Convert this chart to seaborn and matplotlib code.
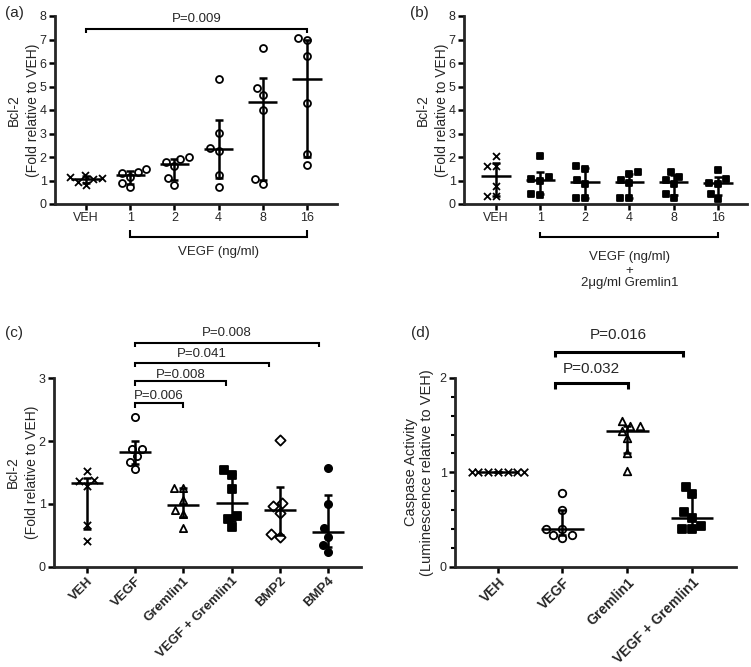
import warnings
warnings.filterwarnings("ignore")
import numpy as np
import pandas as pd
import matplotlib
matplotlib.use("Agg")
import matplotlib.pyplot as plt
import seaborn as sns
from matplotlib.ticker import MultipleLocator

sns.set_style("ticks")
plt.rcParams["font.family"] = ["Liberation Sans", "DejaVu Sans"]

# ---------------- data ----------------
a_groups = ["VEH", "1", "2", "4", "8", "16"]
a_veh = [1.25, 1.15, 1.10, 1.05, 0.95, 0.80]
a_1 = [1.37, 1.16, 1.30, 1.49, 0.72, 0.89]
a_2 = [2.01, 1.90, 1.78, 1.62, 1.09, 0.81]
a_4 = [5.31, 3.01, 2.27, 2.40, 1.23, 0.74]
a_8 = [6.65, 4.92, 4.64, 4.00, 1.06, 0.84]
a_16 = [7.05, 6.98, 6.30, 4.31, 2.11, 1.66]

b_groups = ["VEH", "1", "2", "4", "8", "16"]
b_veh = [2.06, 1.63, 1.63, 0.77, 0.34, 0.34]
b_1 = [2.06, 1.13, 1.06, 0.99, 0.43, 0.38]
b_2 = [1.63, 1.49, 1.02, 0.85, 0.24, 0.24]
b_4 = [1.37, 1.26, 1.02, 0.88, 0.24, 0.24]
b_8 = [1.38, 1.16, 1.02, 0.85, 0.43, 0.24]
b_16 = [1.45, 1.05, 0.91, 0.85, 0.43, 0.21]

c_groups = ["VEH", "VEGF", "Gremlin1", "VEGF + Gremlin1", "BMP2", "BMP4"]
c_veh = [1.53, 1.38, 1.37, 1.28, 0.66, 0.41]
c_vegf = [2.39, 1.88, 1.88, 1.76, 1.67, 1.55]
c_grem = [1.26, 1.26, 1.06, 0.90, 0.84, 0.62]
c_vg = [1.54, 1.46, 1.23, 0.80, 0.76, 0.63]
c_bmp2 = [2.01, 1.02, 0.96, 0.86, 0.52, 0.47]
c_bmp4 = [1.57, 1.00, 0.61, 0.48, 0.35, 0.23]

d_groups = ["VEH", "VEGF", "Gremlin1", "VEGF + Gremlin1"]
d_veh = [1.0, 1.0, 1.0, 1.0, 1.0, 1.0, 1.0]
d_vegf = [0.78, 0.60, 0.40, 0.40, 0.335, 0.335, 0.30]
d_grem = [1.545, 1.49, 1.49, 1.44, 1.36, 1.21, 1.01]
d_vg = [0.85, 0.77, 0.58, 0.52, 0.43, 0.40, 0.40]

a_p = "P=0.009"
c_p = ["P=0.006", "P=0.008", "P=0.041", "P=0.008"]
d_p = ["P=0.032", "P=0.016"]

# ---------------- helpers ----------------
def draw_panel(ax, groups, values, markers, fills, size, lw_err=1.8, halfw=0.33, cap=3):
    df = pd.DataFrame({
        "group": np.repeat(groups, [len(v) for v in values]),
        "value": np.concatenate([np.asarray(v, float) for v in values]),
    })
    for g, m, f in zip(groups, markers, fills):
        sub = df[df["group"] == g]
        if m in ("x", "+"):
            sns.swarmplot(data=sub, x="group", y="value", order=groups, marker=m,
                          color="black", size=size, linewidth=1.3, ax=ax, zorder=3)
        else:
            sns.swarmplot(data=sub, x="group", y="value", order=groups, marker=m,
                          color=f, edgecolor="black", linewidth=1.3, size=size,
                          ax=ax, zorder=3)
    for i, g in enumerate(groups):
        v = df.loc[df["group"] == g, "value"].to_numpy()
        med = np.median(v)
        q1, q3 = np.percentile(v, [25, 75], method="weibull")
        ax.errorbar(i, med, yerr=[[med - q1], [q3 - med]], fmt="none", ecolor="black",
                    elinewidth=lw_err, capsize=cap, capthick=lw_err, zorder=4)
        ax.plot([i - halfw, i + halfw], [med, med], color="black", lw=lw_err,
                zorder=4, solid_capstyle="butt")
    ax.set_xlabel("")
    sns.despine(ax=ax)
    for s in ("left", "bottom"):
        ax.spines[s].set_linewidth(2.0)
    ax.tick_params(axis="both", width=1.8, length=4, labelsize=9, pad=2, color="black")


def bracket(ax, x0, x1, y, drop, text, ty, fs, lw=1.5):
    ax.plot([x0, x0, x1, x1], [y - drop, y, y, y - drop], color="black", lw=lw,
            clip_on=False, solid_capstyle="butt", solid_joinstyle="miter")
    if text:
        ax.text((x0 + x1) / 2, ty, text, ha="center", va="center", fontsize=fs,
                clip_on=False)


W, H = 751, 667
fig = plt.figure(figsize=(W / 100, H / 100), dpi=100)

def axes_px(left, right, top, bottom):
    return fig.add_axes([left / W, 1 - bottom / H, (right - left) / W, (bottom - top) / H])

# ---------------- panel (a) ----------------
ax_a = axes_px(55, 337, 16, 204)
draw_panel(ax_a, a_groups, [a_veh, a_1, a_2, a_4, a_8, a_16],
           ["x", "o", "o", "o", "o", "o"], ["black"] + ["white"] * 5, 5.0)
ax_a.set_ylim(0, 8)
ax_a.set_xlim(-0.70, 5.68)
ax_a.set_yticks(range(0, 9))
ax_a.set_ylabel("Bcl-2\n(Fold relative to VEH)", fontsize=10, linespacing=1.4, labelpad=0)
bracket(ax_a, 0, 5, 7.45, 0.17, a_p, 7.87, 9.5)
bracket(ax_a, 1, 5, -1.40, -0.29, "", 0, 9)
ax_a.text(2.99, -2.04, "VEGF (ng/ml)", ha="center", va="center", fontsize=9.5, clip_on=False)

# ---------------- panel (b) ----------------
ax_b = axes_px(464, 747, 16, 204)
draw_panel(ax_b, b_groups, [b_veh, b_1, b_2, b_4, b_8, b_16],
           ["x", "s", "s", "s", "s", "s"], ["black"] * 6, 5.0)
ax_b.set_ylim(0, 8)
ax_b.set_xlim(-0.72, 5.65)
ax_b.set_yticks(range(0, 9))
ax_b.set_ylabel("Bcl-2\n(Fold relative to VEH)", fontsize=10, linespacing=1.4, labelpad=0)
bracket(ax_b, 1, 5, -1.40, -0.21, "", 0, 9)
ax_b.text(3.0, -2.26, "VEGF (ng/ml)", ha="center", va="center", fontsize=9.5, clip_on=False)
ax_b.text(3.0, -2.85, "+", ha="center", va="center", fontsize=9.5, clip_on=False)
ax_b.text(3.0, -3.36, "2\u03bcg/ml Gremlin1", ha="center", va="center", fontsize=9.5, clip_on=False)

# ---------------- panel (c) ----------------
ax_c = axes_px(54, 361, 378.3, 566.7)
draw_panel(ax_c, c_groups, [c_veh, c_vegf, c_grem, c_vg, c_bmp2, c_bmp4],
           ["x", "o", "^", "s", "D", "o"],
           ["black", "white", "white", "black", "white", "black"], 5.2)
ax_c.set_ylim(0, 3)
ax_c.set_xlim(-0.68, 5.68)
ax_c.set_yticks([0, 1, 2, 3])
ax_c.set_ylabel("Bcl-2\n(Fold relative to VEH)", fontsize=10, linespacing=1.45, labelpad=0)
plt.setp(ax_c.get_xticklabels(), rotation=45, ha="right", rotation_mode="anchor",
         fontweight="bold", fontsize=9.5)
bracket(ax_c, 1, 2.0, 2.60, 0.07, c_p[0], 2.72, 9.5)
bracket(ax_c, 1, 2.88, 2.95, 0.07, c_p[1], 3.06, 9.5)
bracket(ax_c, 1, 3.78, 3.25, 0.07, c_p[2], 3.39, 9.5)
bracket(ax_c, 1, 4.81, 3.57, 0.07, c_p[3], 3.72, 9.5)

# ---------------- panel (d) ----------------
ax_d = axes_px(455, 736, 378, 566.7)
draw_panel(ax_d, d_groups, [d_veh, d_vegf, d_grem, d_vg],
           ["x", "o", "^", "s"], ["black", "white", "white", "black"], 5.4)
ax_d.set_ylim(0, 2)
ax_d.set_xlim(-0.66, 3.68)
ax_d.set_yticks([0, 1, 2])
ax_d.yaxis.set_minor_locator(MultipleLocator(0.2))
ax_d.tick_params(axis="y", which="minor", width=1.5, length=3, color="black")
ax_d.set_ylabel("Caspase Activity\n(Luminescence relative to VEH)", fontsize=10.5,
                linespacing=1.2, labelpad=4)
plt.setp(ax_d.get_xticklabels(), rotation=45, ha="right", rotation_mode="anchor",
         fontweight="bold", fontsize=10)
bracket(ax_d, 0.88, 2.01, 1.944, 0.064, d_p[0], 2.10, 11, lw=2.2)
bracket(ax_d, 0.88, 2.86, 2.28, 0.06, d_p[1], 2.46, 11, lw=2.2)

# ---------------- panel letters ----------------
for lbl, x, y in [("(a)", 5, 13), ("(b)", 410, 13), ("(c)", 5, 333), ("(d)", 411, 333)]:
    fig.text(x / W, 1 - y / H, lbl, ha="left", va="center", fontsize=11)

fig.savefig("out.png", dpi=100)
